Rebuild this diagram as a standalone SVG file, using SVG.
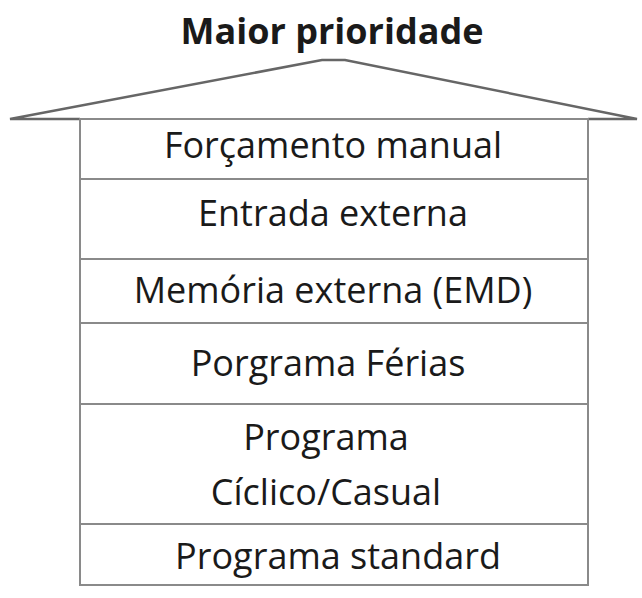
<svg xmlns="http://www.w3.org/2000/svg" width="642" height="598" viewBox="0 0 642 598">
<style>
.t{font-family:"Open Sans","Liberation Sans",sans-serif;font-size:36px;fill:#1a1a1a;text-anchor:middle}
.l{stroke:#8a8a8a;stroke-width:2;fill:none}
</style>
<rect width="642" height="598" fill="#fff"/>
<text x="332" y="44" class="t" style="font-weight:bold;font-size:36px">Maior prioridade</text>
<g id="roof"><polyline class="l" style="stroke:#666;stroke-width:2.5" points="80,119 10,119 322,60 345,60 637,119 588,119"/></g>
<g id="box">
<rect class="l" x="80" y="119" width="508" height="466"/>
<line class="l" x1="80" y1="179" x2="588" y2="179"/>
<line class="l" x1="80" y1="259" x2="588" y2="259"/>
<line class="l" x1="80" y1="323" x2="588" y2="323"/>
<line class="l" x1="80" y1="404" x2="588" y2="404"/>
<line class="l" x1="80" y1="524" x2="588" y2="524"/>
</g>
<g id="n1"><text class="t" x="333" y="158">Forçamento manual</text></g>
<g id="n2"><text class="t" x="333" y="226">Entrada externa</text></g>
<g id="n3"><text class="t" x="333" y="303">Memória externa (EMD)</text></g>
<g id="n4"><text class="t" x="328" y="376">Porgrama Férias</text></g>
<g id="n5"><text class="t" x="326" y="450">Programa</text><text class="t" x="326" y="505">Cíclico/Casual</text></g>
<g id="n6"><text class="t" x="338" y="569">Programa standard</text></g>
</svg>
